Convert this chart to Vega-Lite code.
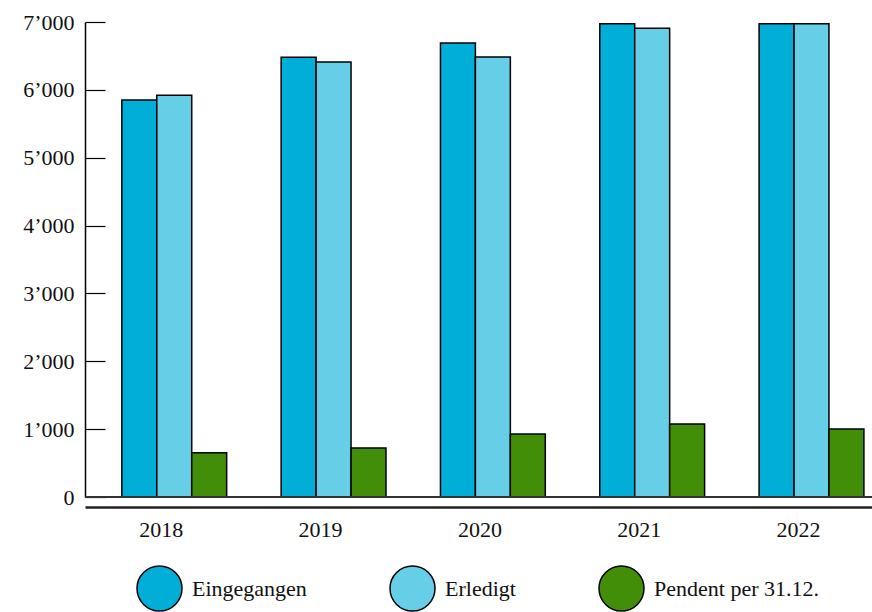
{
  "$schema": "https://vega.github.io/schema/vega-lite/v6.json",
  "width": 787,
  "height": 475,
  "autosize": {"type": "none"},
  "padding": {"left": 85, "top": 22, "right": 0, "bottom": 115},
  "background": "white",
  "config": {
    "view": {"stroke": null},
    "font": "Liberation Serif",
    "axis": {"labelFont": "Liberation Serif", "labelFontSize": 22, "labelColor": "#111", "grid": false, "title": null}
  },
  "data": {
    "values": [
      {"Jahr": "2018", "Serie": "Eingegangen", "Wert": 5850},
      {"Jahr": "2018", "Serie": "Erledigt", "Wert": 5920},
      {"Jahr": "2018", "Serie": "Pendent per 31.12.", "Wert": 653},
      {"Jahr": "2019", "Serie": "Eingegangen", "Wert": 6480},
      {"Jahr": "2019", "Serie": "Erledigt", "Wert": 6410},
      {"Jahr": "2019", "Serie": "Pendent per 31.12.", "Wert": 722},
      {"Jahr": "2020", "Serie": "Eingegangen", "Wert": 6690},
      {"Jahr": "2020", "Serie": "Erledigt", "Wert": 6484},
      {"Jahr": "2020", "Serie": "Pendent per 31.12.", "Wert": 928},
      {"Jahr": "2021", "Serie": "Eingegangen", "Wert": 6975},
      {"Jahr": "2021", "Serie": "Erledigt", "Wert": 6907},
      {"Jahr": "2021", "Serie": "Pendent per 31.12.", "Wert": 1076},
      {"Jahr": "2022", "Serie": "Eingegangen", "Wert": 6975},
      {"Jahr": "2022", "Serie": "Erledigt", "Wert": 6975},
      {"Jahr": "2022", "Serie": "Pendent per 31.12.", "Wert": 1002}
    ]
  },
  "layer": [
    {
      "mark": {"type": "bar", "stroke": "#000", "strokeWidth": 1.5},
      "encoding": {
        "x": {
          "field": "Jahr", "type": "nominal",
          "scale": {"paddingInner": 0.342, "paddingOuter": 0.141, "align": 0.82},
          "axis": {"labelAngle": 0, "ticks": false, "offset": 10, "domainColor": "#222", "domainWidth": 2.5, "labelPadding": 12, "labelOffset": -13}
        },
        "xOffset": {"field": "Serie", "type": "nominal", "sort": ["Eingegangen", "Erledigt", "Pendent per 31.12."]},
        "y": {
          "field": "Wert", "type": "quantitative",
          "scale": {"domain": [0, 7000], "nice": false},
          "axis": {"values": [0, 1000, 2000, 3000, 4000, 5000, 6000, 7000], "labelExpr": "replace(format(datum.value, ',d'), ',', '’')", "tickSize": -20, "tickColor": "#000", "tickWidth": 1.2, "domainColor": "#000", "domainWidth": 1.5, "labelPadding": 31}
        },
        "color": {
          "field": "Serie", "type": "nominal",
          "scale": {"domain": ["Eingegangen", "Erledigt", "Pendent per 31.12."], "range": ["#00AED7", "#66CFE7", "#428E08"]},
          "legend": {
            "title": null, "orient": "none", "direction": "horizontal",
            "legendX": 51, "legendY": 543,
            "symbolType": "circle", "symbolSize": 2025, "symbolStrokeColor": "#000", "symbolStrokeWidth": 1.5,
            "labelFont": "Liberation Serif", "labelFontSize": 22, "labelColor": "#111", "labelOffset": 9,
            "columnPadding": 80, "labelLimit": 400
          }
        }
      }
    },
    {
      "mark": {"type": "rule", "color": "#333", "strokeWidth": 1.5},
      "encoding": {"y": {"datum": 0}}
    }
  ]
}
